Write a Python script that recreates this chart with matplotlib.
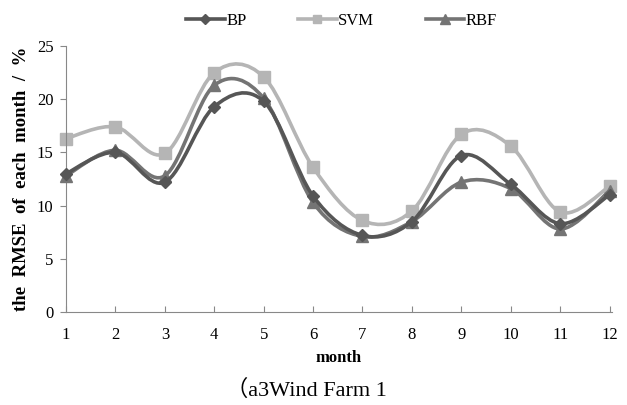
import numpy as np
import matplotlib
matplotlib.use("Agg")
import matplotlib.pyplot as plt
from matplotlib.path import Path
from matplotlib.patches import PathPatch
from matplotlib.lines import Line2D

months = list(range(1, 13))
bp = [13.0, 15.0, 12.2, 19.3, 19.8, 10.9, 7.2, 8.5, 14.7, 12.0, 8.3, 11.0]
svm = [16.3, 17.4, 14.9, 22.5, 22.1, 13.6, 8.6, 9.5, 16.7, 15.6, 9.4, 11.8]
rbf = [12.8, 15.2, 12.8, 21.3, 20.1, 10.3, 7.1, 8.5, 12.2, 11.6, 7.8, 11.4]
series_names = ["BP", "SVM", "RBF"]
yticks = [0, 5, 10, 15, 20, 25]

plt.rcParams['font.family'] = ['Liberation Serif', 'Noto Sans CJK SC']

fig = plt.figure(figsize=(6.27, 4.05), dpi=100)
ax = fig.add_axes([66/627, 93/405, (612-66)/627, (312-46)/405])

def smooth_path(x, y):
    x = np.asarray(x, float); y = np.asarray(y, float)
    n = len(x)
    verts = [(x[0], y[0])]
    codes = [Path.MOVETO]
    for i in range(n - 1):
        p0 = np.array([x[max(i-1, 0)], y[max(i-1, 0)]])
        p1 = np.array([x[i], y[i]])
        p2 = np.array([x[i+1], y[i+1]])
        p3 = np.array([x[min(i+2, n-1)], y[min(i+2, n-1)]])
        c1 = p1 + (p2 - p0) / 6.0
        c2 = p2 - (p3 - p1) / 6.0
        verts += [tuple(c1), tuple(c2), tuple(p2)]
        codes += [Path.CURVE4] * 3
    return Path(verts, codes)

styles = [
    (bp, "#565656", "D", 6, 4),
    (svm, "#b5b5b5", "s", 8, 2),
    (rbf, "#747474", "^", 9, 3),
]
handles = []
for (vals, col, mk, ms, z), name in zip(styles, series_names):
    patch = PathPatch(smooth_path(months, vals), facecolor='none', edgecolor=col,
                      lw=2.6, zorder=z, clip_on=False)
    ax.add_patch(patch)
    ax.plot(months, vals, linestyle='none', marker=mk, ms=ms, color=col,
            markeredgecolor=col, zorder=z + 0.5, clip_on=False)
    handles.append(Line2D([], [], color=col, lw=2.6, marker=mk, ms=ms * 0.8,
                          markeredgecolor=col))

ax.set_xlim(1, 12.05)
ax.set_ylim(0, 25)
ax.set_xticks(months)
ax.set_xticklabels([str(m) for m in months])
ax.set_yticks(yticks)
for s in ['top', 'right']:
    ax.spines[s].set_visible(False)
for s in ['left', 'bottom']:
    ax.spines[s].set_color('#888888')
    ax.spines[s].set_linewidth(0.8)
ax.tick_params(axis='x', direction='in', length=4, color='#888888', labelsize=12, pad=11)
ax.tick_params(axis='y', direction='out', length=4, color='#888888', labelsize=12, pad=5)
ax.set_ylabel("the  RMSE  of  each  month  /  %", fontsize=13.5, fontweight='bold', labelpad=5)
ax.set_xlabel("month", fontsize=12, fontweight='bold', labelpad=5)

fig.legend(handles, series_names, loc='upper center', bbox_to_anchor=(0.545, 1.005), ncol=3,
           frameon=False, fontsize=12, handlelength=2.3, handletextpad=0.1,
           columnspacing=3.1)

fig.text(0.488, 0.01, "（a3Wind Farm 1", ha='center', va='bottom', fontsize=16)

fig.savefig("out.png", dpi=100)
